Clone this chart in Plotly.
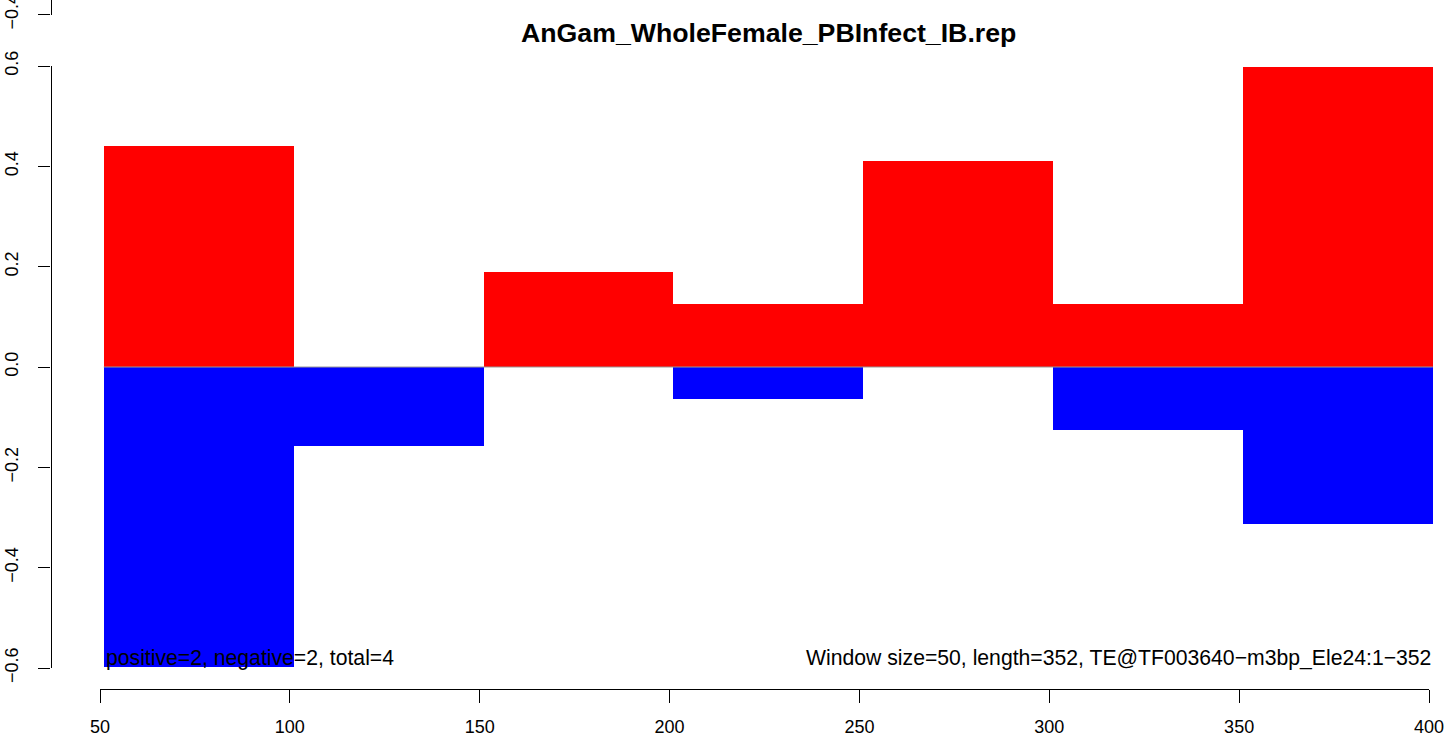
import plotly.graph_objects as go

# ---- data ----
bin_starts = [51, 101, 151, 201, 251, 301, 351]
window = 50
pos_vals = [0.44, 0.0, 0.19, 0.126, 0.41, 0.126, 0.598]
neg_vals = [-0.597, -0.158, 0.0, -0.063, 0.0, -0.126, -0.313]
x_ticks = [50, 100, 150, 200, 250, 300, 350, 400]
y_ticks = [-0.6, -0.4, -0.2, 0.0, 0.2, 0.4, 0.6]
y_ticktext = ["\u22120.6", "\u22120.4", "\u22120.2", "0.0", "0.2", "0.4", "0.6"]
title_text = "AnGam_WholeFemale_PBInfect_IB.rep"
left_note = "positive=2, negative=2, total=4"
right_note = "Window size=50, length=352, TE@TF003640\u2212m3bp_Ele24:1\u2212352"

# ---- layout geometry (pixels) ----
W, H = 1449, 737
X0_PX, X1_PX = 100, 1429   # pixel of x=50 and x=400
YT_PX, YB_PX = 66, 668     # pixel of y=0.6 and y=-0.6
XAXIS_Y_PX = 689
YAXIS_X_PX = 50.5
TOPTICK_PX = 14.5
FONT = "Liberation Sans, Arial, sans-serif"
FS = 18

kx = (x_ticks[-1] - x_ticks[0]) / (X1_PX - X0_PX)
ky = (y_ticks[-1] - y_ticks[0]) / (YB_PX - YT_PX)
x_range = [x_ticks[0] - X0_PX * kx, x_ticks[0] + (W - X0_PX) * kx]
y_range = [y_ticks[0] - (H - YB_PX) * ky, y_ticks[-1] + YT_PX * ky]

centers = [s + window / 2 for s in bin_starts]

fig = go.Figure()
# zero line
fig.add_trace(go.Scatter(x=[bin_starts[0], bin_starts[-1] + window], y=[0, 0],
                         mode="lines", line=dict(color="#999999", width=1),
                         hoverinfo="skip", showlegend=False))
fig.add_trace(go.Bar(x=centers, y=pos_vals, width=window, marker=dict(color="#FF0000", line=dict(width=0)),
                     showlegend=False, name="positive"))
fig.add_trace(go.Bar(x=centers, y=neg_vals, width=window, marker=dict(color="#0000FF", line=dict(width=0)),
                     showlegend=False, name="negative"))
# invisible traces to activate decorative axes
fig.add_trace(go.Scatter(x=[x_ticks[0]], y=[0], xaxis="x2", yaxis="y2", mode="markers",
                         marker=dict(opacity=0), hoverinfo="skip", showlegend=False))
fig.add_trace(go.Scatter(x=[x_ticks[0]], y=[-0.4], xaxis="x2", yaxis="y3", mode="markers",
                         marker=dict(opacity=0), hoverinfo="skip", showlegend=False))

axis_common = dict(showgrid=False, zeroline=False, showline=True, linecolor="black", linewidth=1.3,
                   ticks="outside", tickcolor="black", tickwidth=1.3, ticklen=13, automargin=False,
                   ticklabeloverflow="allow",
                   tickfont=dict(family=FONT, size=FS, color="black"), fixedrange=True)

fig.update_layout(
    width=W, height=H,
    margin=dict(l=0, r=0, t=0, b=0, pad=0),
    paper_bgcolor="white", plot_bgcolor="rgba(0,0,0,0)",
    barmode="overlay", bargap=0,
    xaxis=dict(range=x_range, domain=[0, 1], visible=False, fixedrange=True, automargin=False),
    yaxis=dict(range=y_range, domain=[0, 1], visible=False, fixedrange=True, automargin=False),
    xaxis2=dict(axis_common, domain=[X0_PX / W, X1_PX / W], range=[x_ticks[0], x_ticks[-1]],
                anchor="free", position=1 - XAXIS_Y_PX / H, side="bottom",
                tickvals=x_ticks, ticktext=[str(v) for v in x_ticks], ticklabelstandoff=8),
    yaxis2=dict(axis_common, domain=[1 - YB_PX / H, 1 - YT_PX / H], range=[y_ticks[0], y_ticks[-1]],
                anchor="free", position=YAXIS_X_PX / W, side="left", ticklen=12,
                tickvals=y_ticks, ticktext=y_ticktext, tickangle=-90, ticklabelstandoff=13),
    yaxis3=dict(axis_common, domain=[1 - TOPTICK_PX / H, 1], range=[-0.4, -0.4 + TOPTICK_PX * ky],
                anchor="free", position=YAXIS_X_PX / W, side="left", ticklen=12,
                tickvals=[-0.4], ticktext=["\u22120.4"], tickangle=-90, ticklabelstandoff=13),
    annotations=[
        dict(text="<b>" + title_text + "</b>", xref="paper", yref="paper", x=768 / W,
             y=1 - 33 / H, xanchor="center", yanchor="middle", showarrow=False,
             font=dict(family=FONT, size=26.7, color="black")),
        dict(text=left_note, xref="x", yref="paper", x=bin_starts[0], y=1 - 658 / H,
             xanchor="left", yanchor="middle", showarrow=False,
             font=dict(family=FONT, size=21.2, color="black")),
        dict(text=right_note, xref="x", yref="paper", x=bin_starts[-1] + window, y=1 - 658 / H,
             xanchor="right", yanchor="middle", showarrow=False,
             font=dict(family=FONT, size=21.2, color="black")),
    ],
)

fig.write_html("out.html", config={"displayModeBar": False},
               post_script="document.body.style.margin='0px';")
